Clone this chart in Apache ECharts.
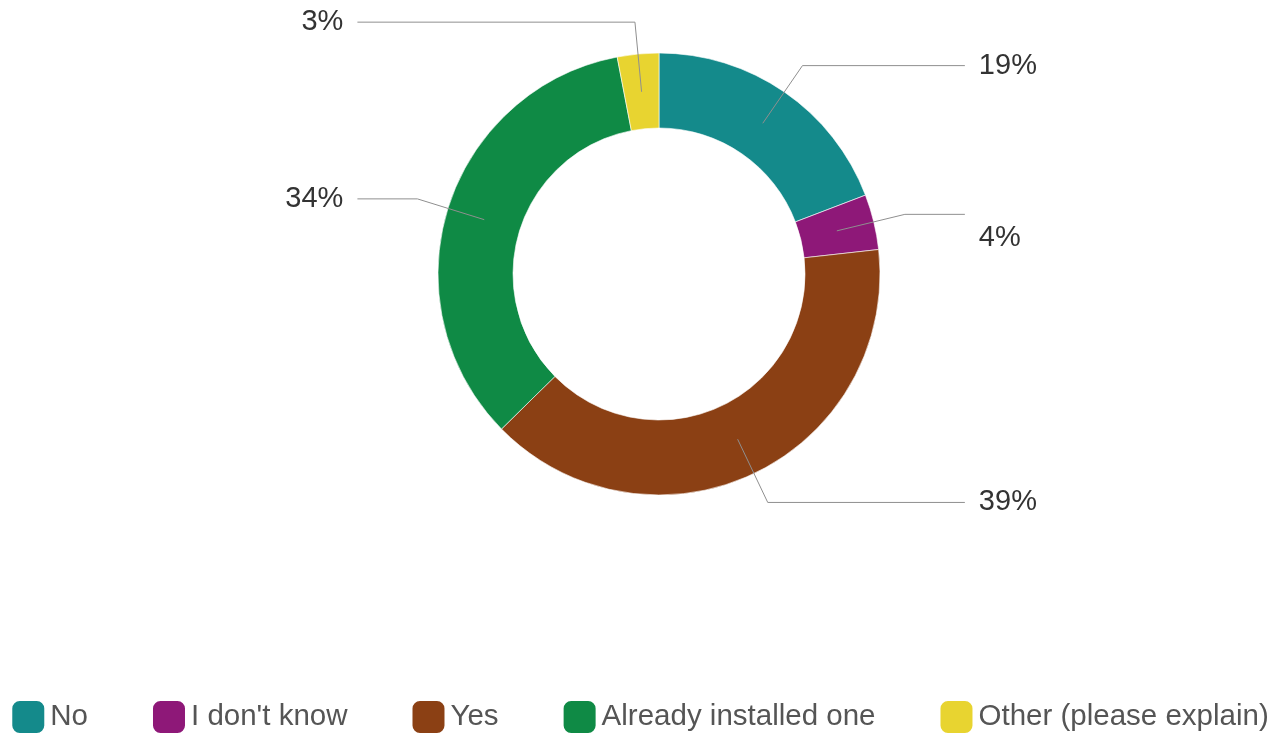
<!DOCTYPE html>
<html>
<head>
<meta charset="utf-8">
<script src="https://cdn.jsdelivr.net/npm/echarts@6/dist/echarts.min.js"></script>
<style>
html,body{margin:0;padding:0;background:#fff;}
#chart{width:1279px;height:738px;}
</style>
</head>
<body>
<div id="chart"></div>
<script>
const categories = ['No', "I don't know", 'Yes', 'Already installed one', 'Other (please explain)'];
const values = [19, 4, 39, 34, 3];
const colors = ['#148a8b', '#8e1878', '#8b4014', '#0f8a45', '#e8d430'];

const chart = echarts.init(document.getElementById('chart'));
const ringData = categories.map((name, i) => ({ name: name, value: values[i], itemStyle: { color: colors[i] } }));
const labelData = categories.map((name, i) => ({ name: name, value: values[i] }));
const FONT = 'Liberation Sans, Arial, sans-serif';

chart.setOption({
  animation: false,
  legend: {
    bottom: -2,
    left: 'center',
    icon: 'roundRect',
    itemWidth: 34,
    itemHeight: 34,
    itemGap: 63,
    textStyle: { fontFamily: FONT, fontSize: 29.5, color: '#555' },
    data: categories
  },
  series: [{
    type: 'pie',
    z: 2,
    center: [659, 274],
    radius: [146, 221],
    startAngle: 90,
    clockwise: true,
    silent: true,
    itemStyle: { borderColor: '#ffffff', borderWidth: 0.6 },
    label: { show: false },
    labelLine: { show: false },
    data: ringData
  }, {
    type: 'pie',
    z: 5,
    center: [659, 274],
    radius: [146, 183],
    startAngle: 90,
    clockwise: true,
    silent: true,
    legendHoverLink: false,
    avoidLabelOverlap: true,
    itemStyle: { color: 'rgba(0,0,0,0)', borderWidth: 0 },
    label: {
      show: true,
      formatter: '{c}%',
      fontFamily: FONT,
      fontSize: 29,
      color: '#333',
      alignTo: 'labelLine',
      distanceToLabelLine: 14
    },
    labelLine: {
      show: true,
      length: 70,
      length2: 60,
      lineStyle: { color: '#8f8f8f', width: 1 }
    },
    labelLayout: function (params) {
      return params.dataIndex === 1 ? { dy: 24 } : {};
    },
    data: labelData
  }]
});
</script>
</body>
</html>
